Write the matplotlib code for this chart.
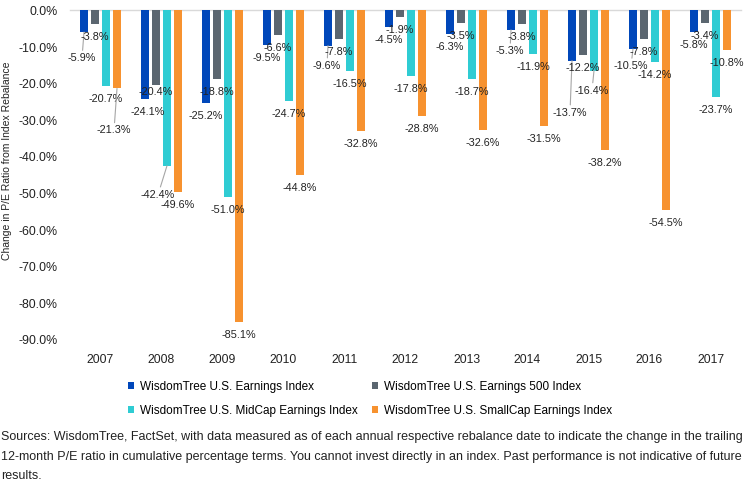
import matplotlib
matplotlib.use("Agg")
import matplotlib.pyplot as plt
import numpy as np

years = ["2007", "2008", "2009", "2010", "2011", "2012", "2013", "2014", "2015", "2016", "2017"]
series_names = [
    "WisdomTree U.S. Earnings Index",
    "WisdomTree U.S. Earnings 500 Index",
    "WisdomTree U.S. MidCap Earnings Index",
    "WisdomTree U.S. SmallCap Earnings Index",
]
earnings = [-5.9, -24.1, -25.2, -9.5, -9.6, -4.5, -6.3, -5.3, -13.7, -10.5, -5.8]
earnings_500 = [-3.8, -20.4, -18.8, -6.6, -7.8, -1.9, -3.5, -3.8, -12.2, -7.8, -3.4]
midcap = [-20.7, -42.4, -51.0, -24.7, -16.5, -17.8, -18.7, -11.9, -16.4, -14.2, -23.7]
smallcap = [-21.3, -49.6, -85.1, -44.8, -32.8, -28.8, -32.6, -31.5, -38.2, -54.5, -10.8]

colors = ["#0047BA", "#5B6670", "#2FCCD3", "#F7922F"]

# label nudges (pixels) for labels Excel moved off the default spot: (series, year) -> (dx, dy, leader)
nudges = {
    (0, 0): (-2, -26, True),
    (3, 0): (-3, -42, True),
    (0, 1): (3, -13.5, False),
    (1, 1): (0, -7, False),
    (2, 1): (-9, -29, True),
    (0, 4): (-1, -20, True),
    (0, 7): (-1, -21, True),
    (0, 8): (-2, -52, True),
    (2, 8): (-2, -20, True),
    (0, 9): (-2, -17, True),
}

plt.rcParams["font.family"] = ["Liberation Sans", "DejaVu Sans"]

fig = plt.figure(figsize=(7.48, 4.94), dpi=100)
ax = fig.add_axes([70 / 748, 1 - 340 / 494, 671 / 748, 329.5 / 494])

x = np.arange(len(years))
width = 8 / 61
step = 11 / 61
all_series = [earnings, earnings_500, midcap, smallcap]
for i, (vals, name, c) in enumerate(zip(all_series, series_names, colors)):
    pos = x + (i - 1.5) * step
    ax.bar(pos, vals, width=width, color=c, label=name, zorder=3)
    for j, v in enumerate(vals):
        dx, dy, leader = nudges.get((i, j), (0, -13, False))
        ap = None
        if leader:
            ap = dict(arrowstyle="-", color="#a6a6a6", lw=0.8, shrinkA=0, shrinkB=0)
        ax.annotate(f"{v:.1f}%", xy=(pos[j], v), xytext=(dx, dy),
                    textcoords="offset pixels", ha="center", va="center",
                    fontsize=7.8, color="#222222", arrowprops=ap, zorder=4)

ax.set_xlim(-0.5, len(years) - 0.5)
ax.set_ylim(-90, 0)
ax.set_yticks(np.arange(-90, 1, 10))
ax.set_yticklabels([f"{t:.1f}%" for t in np.arange(-90, 1, 10)], fontsize=8.9, color="#222222")
ax.set_xticks(x)
ax.set_xticklabels(years, fontsize=8.7, color="#222222")
ax.tick_params(axis="both", length=0)
ax.tick_params(axis="y", pad=9)
ax.tick_params(axis="x", pad=10)
for s in ["left", "right", "bottom"]:
    ax.spines[s].set_visible(False)
ax.spines["top"].set_color("#d9d9d9")
ax.spines["top"].set_linewidth(1.0)
ax.set_ylabel("Change in P/E Ratio from Index Rebalance", fontsize=7.5, color="#222222")
ax.yaxis.set_label_coords(-0.086, 0.543)

handles, labels = ax.get_legend_handles_labels()
order = [0, 2, 1, 3]
fig.legend([handles[k] for k in order], [labels[k] for k in order], ncol=2,
           loc="upper left", bbox_to_anchor=(128 / 748, 1 - 381 / 494), frameon=False,
           fontsize=8.5, handlelength=0.55, handleheight=0.55, handletextpad=0.45,
           columnspacing=1.2, labelspacing=1.0, borderpad=0, borderaxespad=0)

note = ("Sources: WisdomTree, FactSet, with data measured as of each annual respective rebalance date to indicate the change in the trailing\n"
        "12-month P/E ratio in cumulative percentage terms. You cannot invest directly in an index. Past performance is not indicative of future\n"
        "results.")
fig.text(0.002, 1 - 431 / 494, note, ha="left", va="top", fontsize=9,
         color="#222222", linespacing=1.85)

fig.savefig("out.png", dpi=100)
